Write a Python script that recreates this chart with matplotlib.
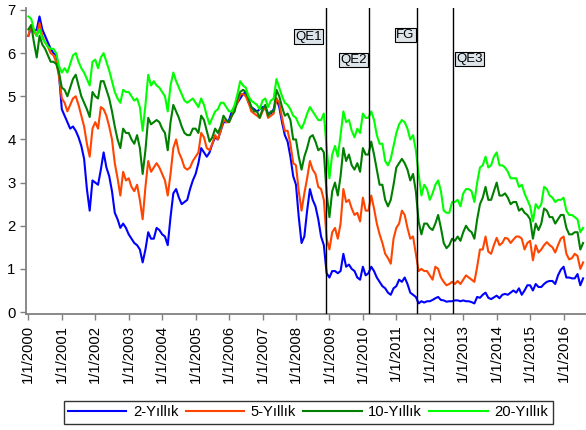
import numpy as np
import matplotlib
matplotlib.use("Agg")
import matplotlib.pyplot as plt

plt.rcParams['font.family'] = ['Liberation Sans', 'DejaVu Sans']

# monthly yields (%), Jan 2000 - Aug 2016
y2 = [
    6.40, 6.60, 6.50, 6.55, 6.85, 6.55, 6.40, 6.25, 6.10, 6.00, 5.95, 5.50,  # 2000
    4.70, 4.55, 4.40, 4.25, 4.30, 4.20, 4.05, 3.85, 3.55, 2.85, 2.35, 3.05,  # 2001
    3.00, 2.95, 3.30, 3.70, 3.35, 3.15, 2.80, 2.30, 2.15, 1.95, 2.05, 1.95,  # 2002
    1.80, 1.70, 1.60, 1.55, 1.45, 1.15, 1.45, 1.85, 1.70, 1.70, 1.95, 1.90,  # 2003
    1.80, 1.75, 1.55, 2.20, 2.75, 2.85, 2.65, 2.50, 2.55, 2.60, 2.85, 3.05,  # 2004
    3.20, 3.45, 3.80, 3.70, 3.60, 3.70, 3.90, 4.05, 4.00, 4.20, 4.40, 4.40,  # 2005
    4.45, 4.65, 4.75, 4.85, 4.95, 5.05, 5.10, 4.85, 4.75, 4.70, 4.65, 4.70,  # 2006
    4.75, 4.75, 4.60, 4.60, 4.70, 4.95, 4.75, 4.40, 4.10, 3.95, 3.60, 3.15,  # 2007
    2.95, 2.20, 1.60, 1.75, 2.35, 2.85, 2.60, 2.45, 2.15, 1.75, 1.55, 0.90,  # 2008
    0.80, 0.95, 0.95, 0.90, 0.95, 1.35, 1.05, 1.10, 1.00, 0.95, 0.80, 0.75,  # 2009
    1.05, 0.85, 0.90, 1.05, 0.95, 0.80, 0.70, 0.60, 0.55, 0.45, 0.40, 0.55,  # 2010
    0.60, 0.75, 0.70, 0.80, 0.65, 0.45, 0.40, 0.35, 0.20, 0.25, 0.22, 0.25,  # 2011
    0.25, 0.28, 0.32, 0.35, 0.28, 0.27, 0.24, 0.25, 0.25, 0.27, 0.27, 0.25,  # 2012
    0.27, 0.25, 0.25, 0.23, 0.20, 0.35, 0.33, 0.40, 0.45, 0.33, 0.30, 0.34,  # 2013
    0.38, 0.32, 0.40, 0.42, 0.40, 0.45, 0.50, 0.45, 0.55, 0.40, 0.50, 0.62,  # 2014
    0.62, 0.50, 0.65, 0.58, 0.58, 0.65, 0.70, 0.72, 0.72, 0.65, 0.85, 0.98,  # 2015
    1.05, 0.80, 0.80, 0.78, 0.78, 0.88, 0.62, 0.78,                          # 2016
]
y5 = [
    6.40, 6.65, 6.50, 6.40, 6.70, 6.40, 6.25, 6.15, 6.00, 5.95, 5.80, 5.45,
    4.95, 4.85, 4.65, 4.80, 4.95, 5.00, 4.80, 4.55, 4.30, 3.90, 3.60, 4.25,
    4.40, 4.25, 4.75, 4.70, 4.55, 4.30, 4.00, 3.45, 3.10, 2.70, 3.25, 3.05,
    3.10, 2.90, 2.80, 2.95, 2.60, 2.15, 2.90, 3.50, 3.25, 3.35, 3.45, 3.35,
    3.20, 3.05, 2.70, 3.20, 3.80, 4.00, 3.70, 3.55, 3.35, 3.30, 3.35, 3.50,
    3.60, 3.70, 4.15, 4.05, 3.80, 3.75, 3.90, 4.10, 4.00, 4.20, 4.45, 4.40,
    4.40, 4.55, 4.70, 4.85, 5.05, 5.05, 5.00, 4.85, 4.65, 4.60, 4.55, 4.50,
    4.65, 4.75, 4.50, 4.55, 4.60, 4.95, 4.85, 4.50, 4.20, 4.20, 3.90, 3.45,
    3.40, 2.80, 2.35, 2.75, 3.10, 3.50, 3.30, 3.20, 2.90, 2.85, 2.60, 1.70,
    1.45, 1.85, 1.95, 1.70, 2.05, 2.85, 2.55, 2.60, 2.40, 2.25, 2.30, 2.10,
    2.65, 2.35, 2.35, 2.70, 2.40, 2.05, 1.80, 1.60, 1.35, 1.25, 1.12, 1.70,
    1.95, 2.05, 2.35, 2.25, 1.95, 1.70, 1.75, 1.35, 0.95, 1.00, 0.95, 0.95,
    0.85, 0.75, 1.05, 1.00, 0.80, 0.70, 0.62, 0.65, 0.70, 0.65, 0.72, 0.65,
    0.75, 0.85, 0.80, 0.75, 0.70, 1.05, 1.45, 1.45, 1.75, 1.40, 1.35, 1.55,
    1.72, 1.55, 1.60, 1.72, 1.70, 1.60, 1.68, 1.75, 1.75, 1.70, 1.45, 1.60,
    1.65, 1.20, 1.55, 1.38, 1.45, 1.55, 1.62, 1.55, 1.50, 1.38, 1.55, 1.70,
    1.75, 1.35, 1.22, 1.25, 1.35, 1.30, 1.00, 1.15,
]
y10 = [
    6.55, 6.65, 6.25, 5.90, 6.40, 6.20, 6.10, 5.95, 5.80, 5.80, 5.75, 5.55,
    5.20, 5.15, 5.00, 5.20, 5.40, 5.50, 5.25, 5.00, 4.85, 4.70, 4.52, 5.10,
    5.00, 4.95, 5.35, 5.35, 5.15, 4.95, 4.65, 4.30, 4.00, 3.80, 4.25, 4.15,
    4.15, 4.00, 3.90, 4.10, 3.80, 3.20, 3.75, 4.50, 4.35, 4.40, 4.45, 4.40,
    4.25, 4.15, 3.75, 4.40, 4.80, 4.65, 4.50, 4.30, 4.15, 4.10, 4.10, 4.25,
    4.25, 4.15, 4.55, 4.45, 4.20, 3.95, 4.05, 4.25, 4.15, 4.30, 4.55, 4.45,
    4.40, 4.55, 4.65, 4.95, 5.10, 5.15, 5.10, 4.95, 4.75, 4.65, 4.65, 4.50,
    4.70, 4.80, 4.55, 4.65, 4.65, 5.15, 5.00, 4.75, 4.55, 4.60, 4.45, 4.00,
    4.00, 3.60, 3.30, 3.60, 3.80, 4.05, 4.10, 3.95, 3.75, 3.80, 3.70, 2.75,
    2.20, 2.80, 3.00, 2.70, 3.15, 3.80, 3.50, 3.65, 3.40, 3.30, 3.45, 3.25,
    3.80, 3.65, 3.65, 3.95, 3.65, 3.30, 2.95, 2.95, 2.60, 2.45, 2.60, 2.95,
    3.35, 3.45, 3.55, 3.45, 3.30, 3.05, 3.20, 2.80, 2.10, 1.80, 2.05, 2.05,
    1.95, 1.90, 2.05, 2.25, 1.95, 1.60, 1.48, 1.55, 1.70, 1.65, 1.75, 1.65,
    1.85, 2.00, 1.90, 1.85, 1.70, 2.15, 2.50, 2.65, 2.90, 2.60, 2.60, 2.80,
    3.00, 2.70, 2.70, 2.75, 2.65, 2.50, 2.55, 2.55, 2.35, 2.40, 2.30, 2.25,
    2.15, 1.70, 2.05, 1.90, 2.05, 2.40, 2.35, 2.20, 2.20, 2.05, 2.15, 2.25,
    2.25, 1.95, 1.80, 1.80, 1.85, 1.85, 1.45, 1.60,
]
y20 = [
    6.85, 6.80, 6.55, 6.40, 6.55, 6.35, 6.25, 6.15, 6.10, 6.10, 6.00, 5.70,
    5.55, 5.65, 5.55, 5.75, 5.95, 6.00, 5.80, 5.65, 5.55, 5.40, 5.25, 5.80,
    5.85, 5.65, 5.90, 6.00, 5.80, 5.60, 5.35, 5.10, 4.95, 4.85, 5.15, 5.10,
    5.10, 5.00, 4.90, 4.95, 4.75, 4.20, 4.80, 5.50, 5.25, 5.35, 5.25, 5.20,
    5.10, 5.00, 4.65, 5.25, 5.55, 5.35, 5.20, 5.05, 4.90, 4.85, 4.90, 4.95,
    4.85, 4.75, 4.95, 4.80, 4.55, 4.35, 4.50, 4.65, 4.70, 4.85, 4.85, 4.75,
    4.65, 4.65, 4.80, 5.05, 5.35, 5.25, 5.20, 5.00, 4.90, 4.85, 4.80, 4.70,
    4.90, 4.95, 4.75, 4.90, 4.95, 5.40, 5.20, 5.00, 4.85, 4.80, 4.70, 4.55,
    4.50, 4.35, 4.25, 4.40, 4.60, 4.75, 4.65, 4.55, 4.45, 4.45, 4.60, 3.80,
    3.10, 3.65, 3.85, 3.60, 4.10, 4.65, 4.40, 4.45, 4.20, 4.05, 4.25, 4.15,
    4.60, 4.50, 4.50, 4.65, 4.45, 4.10, 3.90, 3.90, 3.50, 3.40, 3.55, 3.85,
    4.15, 4.35, 4.45, 4.40, 4.25, 4.00, 4.10, 3.75, 3.20, 2.70, 2.95, 2.85,
    2.60, 2.75, 2.95, 3.05, 2.80, 2.35, 2.30, 2.30, 2.55, 2.55, 2.60, 2.45,
    2.75, 2.85, 2.85, 2.80, 2.55, 3.00, 3.35, 3.40, 3.60, 3.35, 3.40, 3.60,
    3.70, 3.40, 3.40, 3.35, 3.25, 3.10, 3.10, 3.10, 2.90, 2.95, 2.75, 2.60,
    2.45, 2.10, 2.50, 2.40, 2.50, 2.90, 2.85, 2.70, 2.65, 2.55, 2.60, 2.60,
    2.65, 2.35, 2.25, 2.25, 2.20, 2.15, 1.85, 1.95,
]
series_labels = ['2-Yıllık', '5-Yıllık', '10-Yıllık', '20-Yıllık']
series_colors = ['#0000ff', '#ff4500', '#008000', '#00ff00']

# policy events (decimal year) and label heights
event_names = ['QE1', 'QE2', 'FG', 'QE3']
event_dates = [2008.90, 2010.19, 2011.61, 2012.70]
event_label_y = [6.38, 5.84, 6.42, 5.86]

years = list(range(2000, 2017))
t = 2000 + np.arange(len(y2)) / 12.0

fig = plt.figure(figsize=(5.86, 4.30), dpi=100)
ax = fig.add_axes([0.0444, 0.2693, 0.9556, 0.7125])

for vals, lab, col in zip([y2, y5, y10, y20], series_labels, series_colors):
    ax.plot(t, vals, color=col, lw=1.5, label=lab)

offsets = [-3.1, -1.9, -1.6, 2.2]
for name, d, ly, off in zip(event_names, event_dates, event_label_y, offsets):
    ax.axvline(d, color='black', lw=1.0, zorder=5)
    ax.annotate(name, xy=(d, ly), xytext=(off, 0), textcoords='offset points',
                ha='right' if off < 0 else 'left', va='center', fontsize=9.5,
                bbox=dict(boxstyle='square,pad=0.1', fc='#dde5ea', ec='black', lw=0.8),
                zorder=6)

ax.set_xlim(1999.93, 2016.67)
ax.set_ylim(-0.05, 7.05)
ax.set_xticks(years)
ax.set_xticklabels([f'1/1/{y}' for y in years], rotation=90, fontsize=10.7)
ax.set_yticks(range(0, 8))
ax.tick_params(axis='y', labelsize=10.7)
ax.tick_params(colors='#808080', labelcolor='black', length=4, width=1.0, direction='out')

for s in ['top', 'right']:
    ax.spines[s].set_visible(False)
for s in ['left', 'bottom']:
    ax.spines[s].set_color('#808080')
    ax.spines[s].set_linewidth(1.3)

leg = fig.legend(loc='center', bbox_to_anchor=(0.526, 0.0407), ncol=4,
                 fontsize=10.6, frameon=True, fancybox=False, handlelength=3.95,
                 handletextpad=0.45, columnspacing=0.5, borderpad=0.3)
leg.get_frame().set_edgecolor('black')
leg.get_frame().set_linewidth(1.0)
for h in leg.get_lines():
    h.set_linewidth(1.5)

fig.savefig('out.png', dpi=100)
